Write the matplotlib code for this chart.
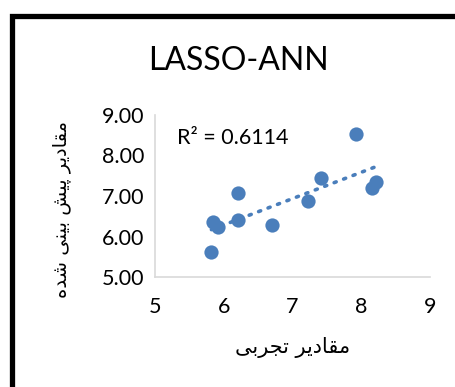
import numpy as np
import matplotlib
matplotlib.use("Agg")
import matplotlib.pyplot as plt
from matplotlib.lines import Line2D

# data
measured = [5.82, 5.84, 5.91, 6.20, 6.20, 6.70, 7.23, 7.41, 7.93, 8.15, 8.21]
predicted = [5.62, 6.37, 6.24, 7.07, 6.41, 6.28, 6.88, 7.45, 8.52, 7.21, 7.34]
x_ticks = [5, 6, 7, 8, 9]
y_ticks = [5.0, 6.0, 7.0, 8.0, 9.0]
title = "LASSO-ANN"
r2_text = "R² = 0.6114"

# Persian labels, written in presentation forms and reversed (no shaping in matplotlib)
# مقادیر تجربی
xlabel = "\uFEE3\uFED8\uFE8E\uFEA9\uFEF3\uFEAE \uFE97\uFEA0\uFEAE\uFE91\uFEF0"[::-1]
# مقادیر پیش بینی شده
ylabel = ("\uFEE3\uFED8\uFE8E\uFEA9\uFEF3\uFEAE \uFB58\uFEF4\uFEB6 "
          "\uFE91\uFEF4\uFEE8\uFEF0 \uFEB7\uFEAA\uFEE9")[::-1]

blue = "#4A7EBB"
fonts = ["Lato", "DejaVu Sans"]
plt.rcParams["font.family"] = fonts

fig = plt.figure(figsize=(4.56, 3.87), dpi=100)
ax = fig.add_axes([0.340, 0.284, 0.603, 0.419])

ax.scatter(measured, predicted, s=105, color=blue, zorder=3, linewidths=0)

# linear trendline
k, b = np.polyfit(measured, predicted, 1)
xs = np.array([min(measured), max(measured)])
ax.plot(xs, k * xs + b, color=blue, lw=2.6, ls=(0, (0.6, 2.2)),
        dash_capstyle="round", zorder=2)

ax.set_xlim(5, 9)
ax.set_ylim(5, 9)
ax.set_xticks(x_ticks)
ax.set_yticks(y_ticks)
ax.set_yticklabels(["%.2f" % v for v in y_ticks])
ax.tick_params(length=0, labelsize=15.5, pad=8)
ax.tick_params(axis="x", pad=14)
for s in ["top", "right"]:
    ax.spines[s].set_visible(False)
for s in ["left", "bottom"]:
    ax.spines[s].set_color("#D9D9D9")
    ax.spines[s].set_linewidth(1.2)

ax.text(0.08, 0.86, r2_text, transform=ax.transAxes, fontsize=15.5,
        va="center", ha="left")

fig.text(238 / 456, 1 - 61 / 387, title, fontsize=23, ha="center", va="center")
fig.text(293 / 456, 1 - 347 / 387, xlabel, fontsize=15, ha="center", va="center",
         family=["DejaVu Sans"])
fig.text(62 / 456, 1 - 210 / 387, ylabel, fontsize=14, ha="center", va="center",
         rotation=90, family=["DejaVu Sans"])

# chart frame (cropped on right and bottom)
fig.add_artist(Line2D([11.7 / 456, 11.7 / 456, 1], [0, 1 - 16 / 387, 1 - 16 / 387],
                      color="black", lw=3.8, solid_joinstyle="miter",
                      transform=fig.transFigure))

fig.savefig("out.png", dpi=100)
